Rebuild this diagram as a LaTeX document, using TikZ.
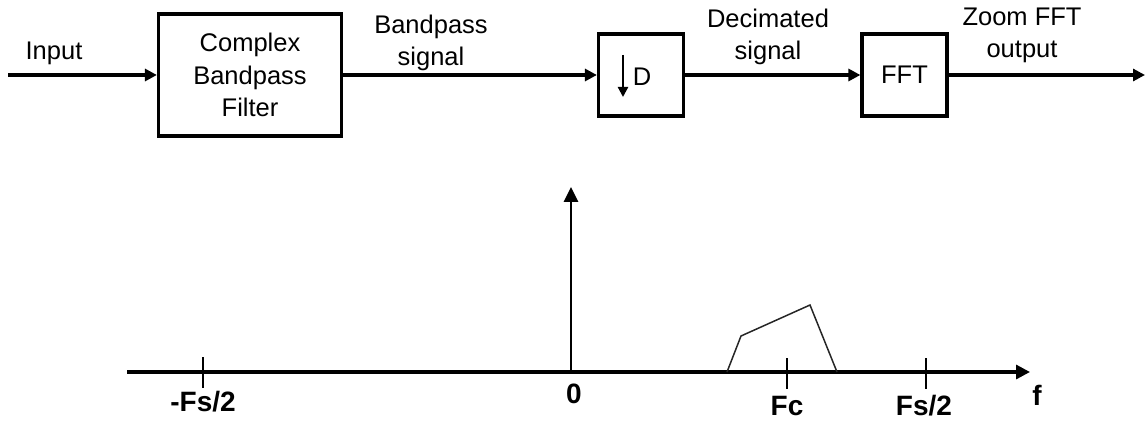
\documentclass[tikz,border=0pt]{standalone}
\usepackage{fontspec}
\setmainfont{Liberation Sans}
\usetikzlibrary{arrows.meta}
\begin{document}
\begin{tikzpicture}[x=1pt,y=-1pt,
  blk/.style={draw, line width=3.2pt, inner sep=0pt, font=\fontsize{25.5}{32.5}\selectfont, align=center},
  lbl/.style={inner sep=0pt, font=\fontsize{25.5}{32}\selectfont, align=center},
  axl/.style={inner sep=0pt, font=\fontsize{28}{30}\selectfont\bfseries},
  conn/.style={line width=3.2pt, -{Triangle[length=12pt,width=12pt]}},
  tickln/.style={line width=1.6pt},
  spec/.style={line width=1.5pt, line join=miter, draw=black!85}]
\useasboundingbox (0,0) rectangle (1145,422);
% --- block diagram ---
\node[blk, minimum width=183pt, minimum height=122pt] (cbf) at (250,75) {Complex\\Bandpass\\Filter};
\node[blk, minimum width=85pt, minimum height=82pt] (dec) at (641,75) {};
\node[blk, minimum width=85pt, minimum height=82pt] (fft) at (904.5,75) {FFT};
\node[lbl] (dchar) at (642,76.5) {D};
\coordinate (da0) at (623,55);
\coordinate (da1) at (623,97);
\draw[line width=2.2pt, -{Triangle[length=10pt,width=10pt]}] (da0) -- (da1);
\coordinate (in) at (8,75);
\coordinate (out) at (1145,75);
\draw[conn] (in) -- (cbf);
\draw[conn] (cbf) -- (dec);
\draw[conn] (dec) -- (fft);
\draw[conn] (fft) -- (out);
\node[lbl] (linput) at (54,53) {Input};
\node[lbl] (lbp) at (431,43) {Bandpass\\signal};
\node[lbl] (ldec) at (768,37) {Decimated\\signal};
\node[lbl] (lzoom) at (1022,35) {Zoom FFT\\output};
% --- spectrum ---
\coordinate (ax0) at (127,372);
\coordinate (ax1) at (1030,372);
\coordinate (orig) at (571,372);
\coordinate (vtop) at (571,187);
\draw[line width=3.2pt, -{Triangle[length=14pt,width=14pt]}] (ax0) -- (ax1);
\draw[line width=2.8pt, -{Triangle[length=15pt,width=14pt]}] (orig) -- (vtop);
\coordinate (t1a) at (203,357); \coordinate (t1b) at (203,388);
\coordinate (t2a) at (787,358); \coordinate (t2b) at (787,389);
\coordinate (t3a) at (926,358); \coordinate (t3b) at (926,389);
\draw[tickln] (t1a) -- (t1b);
\draw[tickln] (t2a) -- (t2b);
\draw[tickln] (t3a) -- (t3b);
\coordinate (s0) at (727,372);
\coordinate (s1) at (741,336);
\coordinate (s2) at (810,305);
\coordinate (s3) at (837,372);
\draw[spec] (s0) -- (s1) -- (s2) -- (s3);
\node[axl] (lmfs) at (203,402) {-Fs/2};
\node[axl] (lzero) at (574,394) {0};
\node[axl] (lfc) at (787,406) {Fc};
\node[axl] (lfs) at (924,406) {Fs/2};
\node[axl] (lf) at (1037,395) {f};
\end{tikzpicture}
\end{document}
